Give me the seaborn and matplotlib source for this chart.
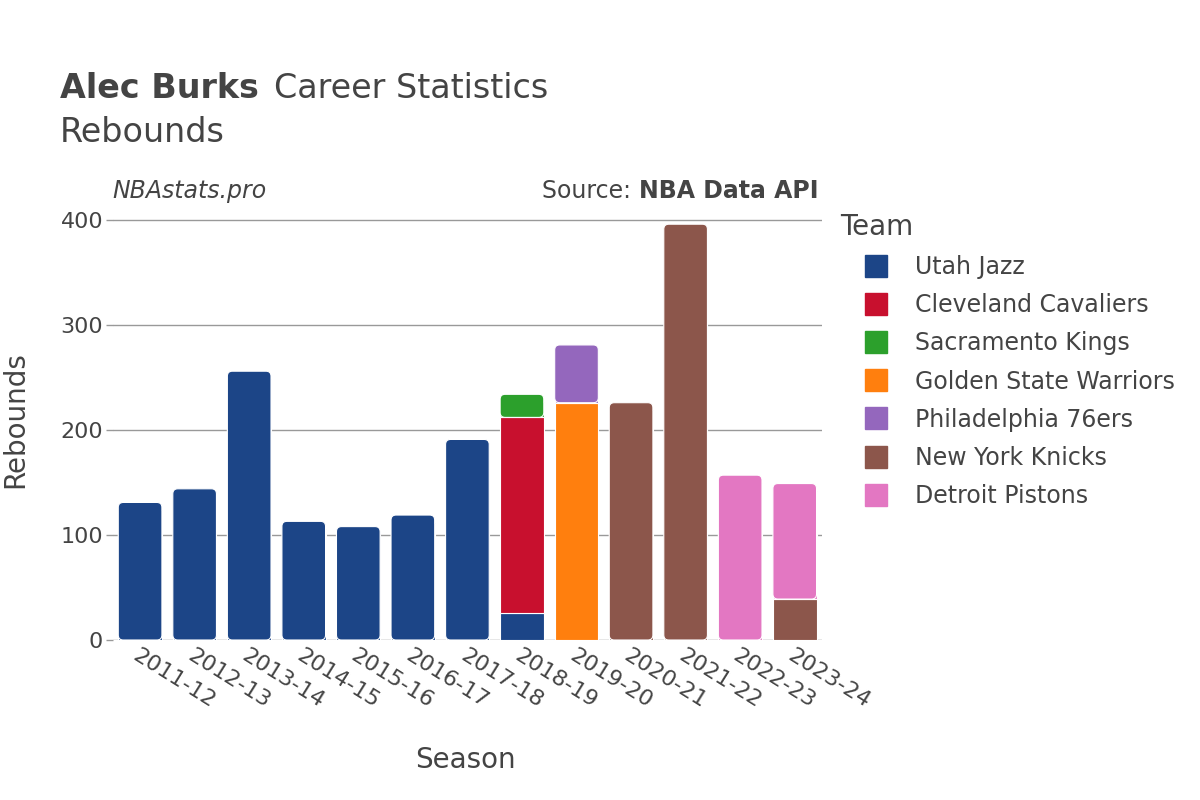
import numpy as np
import pandas as pd
import matplotlib
matplotlib.use("Agg")
import matplotlib.pyplot as plt
from matplotlib.patches import FancyBboxPatch
import seaborn as sns

seasons = ["2011-12", "2012-13", "2013-14", "2014-15", "2015-16", "2016-17", "2017-18",
           "2018-19", "2019-20", "2020-21", "2021-22", "2022-23", "2023-24"]
teams = ["Utah Jazz", "Cleveland Cavaliers", "Sacramento Kings", "Golden State Warriors",
         "Philadelphia 76ers", "New York Knicks", "Detroit Pistons"]
colors = ["#1c4587", "#c8102e", "#2ca02c", "#ff7f0e", "#9467bd", "#8c564b", "#e377c2"]

utah = [131, 144, 256, 113, 108, 119, 191, 26, 0, 0, 0, 0, 0]
cleveland = [0, 0, 0, 0, 0, 0, 0, 186, 0, 0, 0, 0, 0]
sacramento = [0, 0, 0, 0, 0, 0, 0, 22, 0, 0, 0, 0, 0]
golden_state = [0, 0, 0, 0, 0, 0, 0, 0, 226, 0, 0, 0, 0]
philadelphia = [0, 0, 0, 0, 0, 0, 0, 0, 55, 0, 0, 0, 0]
new_york = [0, 0, 0, 0, 0, 0, 0, 0, 0, 226, 396, 0, 39]
detroit = [0, 0, 0, 0, 0, 0, 0, 0, 0, 0, 0, 157, 110]

team_values = [utah, cleveland, sacramento, golden_state, philadelphia, new_york, detroit]

TEXT = "#444444"
YMAX = 416

sns.set_theme(style="white")
plt.rcParams["font.family"] = ["DejaVu Sans"]

fig = plt.figure(figsize=(12, 8), dpi=100)
ax = fig.add_axes([0.094, 0.2, 0.591, 0.546])

bottom = np.zeros(len(seasons))
handles = []
for team, vals, col in zip(teams, team_values, colors):
    vals = np.array(vals, dtype=float)
    df = pd.DataFrame({"Season": seasons, "Rebounds": vals, "bottom": bottom})
    df = df[df["Rebounds"] > 0]
    sns.barplot(data=df, x="Season", y="Rebounds", order=seasons, color=col,
                bottom=df["bottom"].values, width=0.8, saturation=1,
                edgecolor="white", linewidth=0.8, ax=ax, zorder=3)
    handles.append(plt.Line2D([0], [0], marker="s", linestyle="", markersize=16,
                              markerfacecolor=col, markeredgecolor=col, label=team))
    bottom = bottom + vals

ax.set_ylim(0, YMAX)
ax.set_xlim(-0.5, len(seasons) - 0.5)

# round the top corners of each stack
px_x = 1 / (0.591 * 1200 / len(seasons))   # data units per pixel, x
px_y = YMAX / (0.546 * 800)                  # data units per pixel, y
r_px = 5
for p in list(ax.patches):
    x0, y0 = p.get_x(), p.get_y()
    w, h = p.get_width(), p.get_height()
    idx = int(round(x0 + w / 2))
    if abs((y0 + h) - bottom[idx]) < 1e-6 and h > 2 * r_px * px_y:
        rp = FancyBboxPatch((x0, y0), w, h,
                            boxstyle=f"round,pad=0,rounding_size={r_px * px_x}",
                            mutation_aspect=px_y / px_x,
                            facecolor=p.get_facecolor(), edgecolor="white",
                            linewidth=0.8, zorder=3.5)
        ax.add_patch(rp)
        p.set_height(h - r_px * px_y * 1.5)

ax.set_yticks([0, 100, 200, 300, 400])
for y in [100, 200, 300, 400]:
    ax.axhline(y, color="#999999", linewidth=1, zorder=1)
ax.axhline(0, color="#e5e5e5", linewidth=2, zorder=2)
for s in ax.spines.values():
    s.set_visible(False)

ax.tick_params(axis="y", labelsize=16, colors=TEXT, length=5, width=1, pad=2,
               color="#999999", left=True)
ax.tick_params(axis="x", labelsize=16, colors=TEXT, length=0, pad=4)
plt.setp(ax.get_xticklabels(), rotation=-32, ha="left", rotation_mode="anchor")

ax.set_xlabel("")
ax.set_ylabel("")
fig.text(465 / 1200, 1 - 760 / 800, "Season", fontsize=20, color=TEXT,
         ha="center", va="center")
fig.text(15 / 1200, 1 - 420 / 800, "Rebounds", fontsize=20, color=TEXT,
         ha="center", va="center", rotation=90)

fig.text(0.05, 0.89, "Alec Burks", fontsize=24, fontweight="bold", color=TEXT, va="center")
fig.text(0.228, 0.89, "Career Statistics", fontsize=24, color=TEXT, va="center")
fig.text(0.05, 0.835, "Rebounds", fontsize=24, color=TEXT, va="center")

fig.text(0.094, 0.761, "NBAstats.pro", fontsize=17, style="italic", color=TEXT, va="center")
src = fig.text(0.682, 0.761, "NBA Data API", fontsize=17, fontweight="bold", color=TEXT,
               va="center", ha="right")
fig.canvas.draw()
bb = src.get_window_extent()
fig.text(bb.x0 / 1200, 0.761, "Source: ", fontsize=17, color=TEXT, va="center", ha="right")

# legend: title as separate text so the entries can be indented
fig.text(840 / 1200, 1 - 227 / 800, "Team", fontsize=20, color=TEXT, va="center")
leg = fig.legend(handles=handles, loc="upper left",
                 bbox_to_anchor=(0.7093, 0.693), frameon=False, fontsize=17,
                 labelspacing=0.6, handletextpad=1.0,
                 handlelength=1.3, borderaxespad=0)
for t in leg.get_texts():
    t.set_color(TEXT)

fig.savefig("out.png", dpi=100)
